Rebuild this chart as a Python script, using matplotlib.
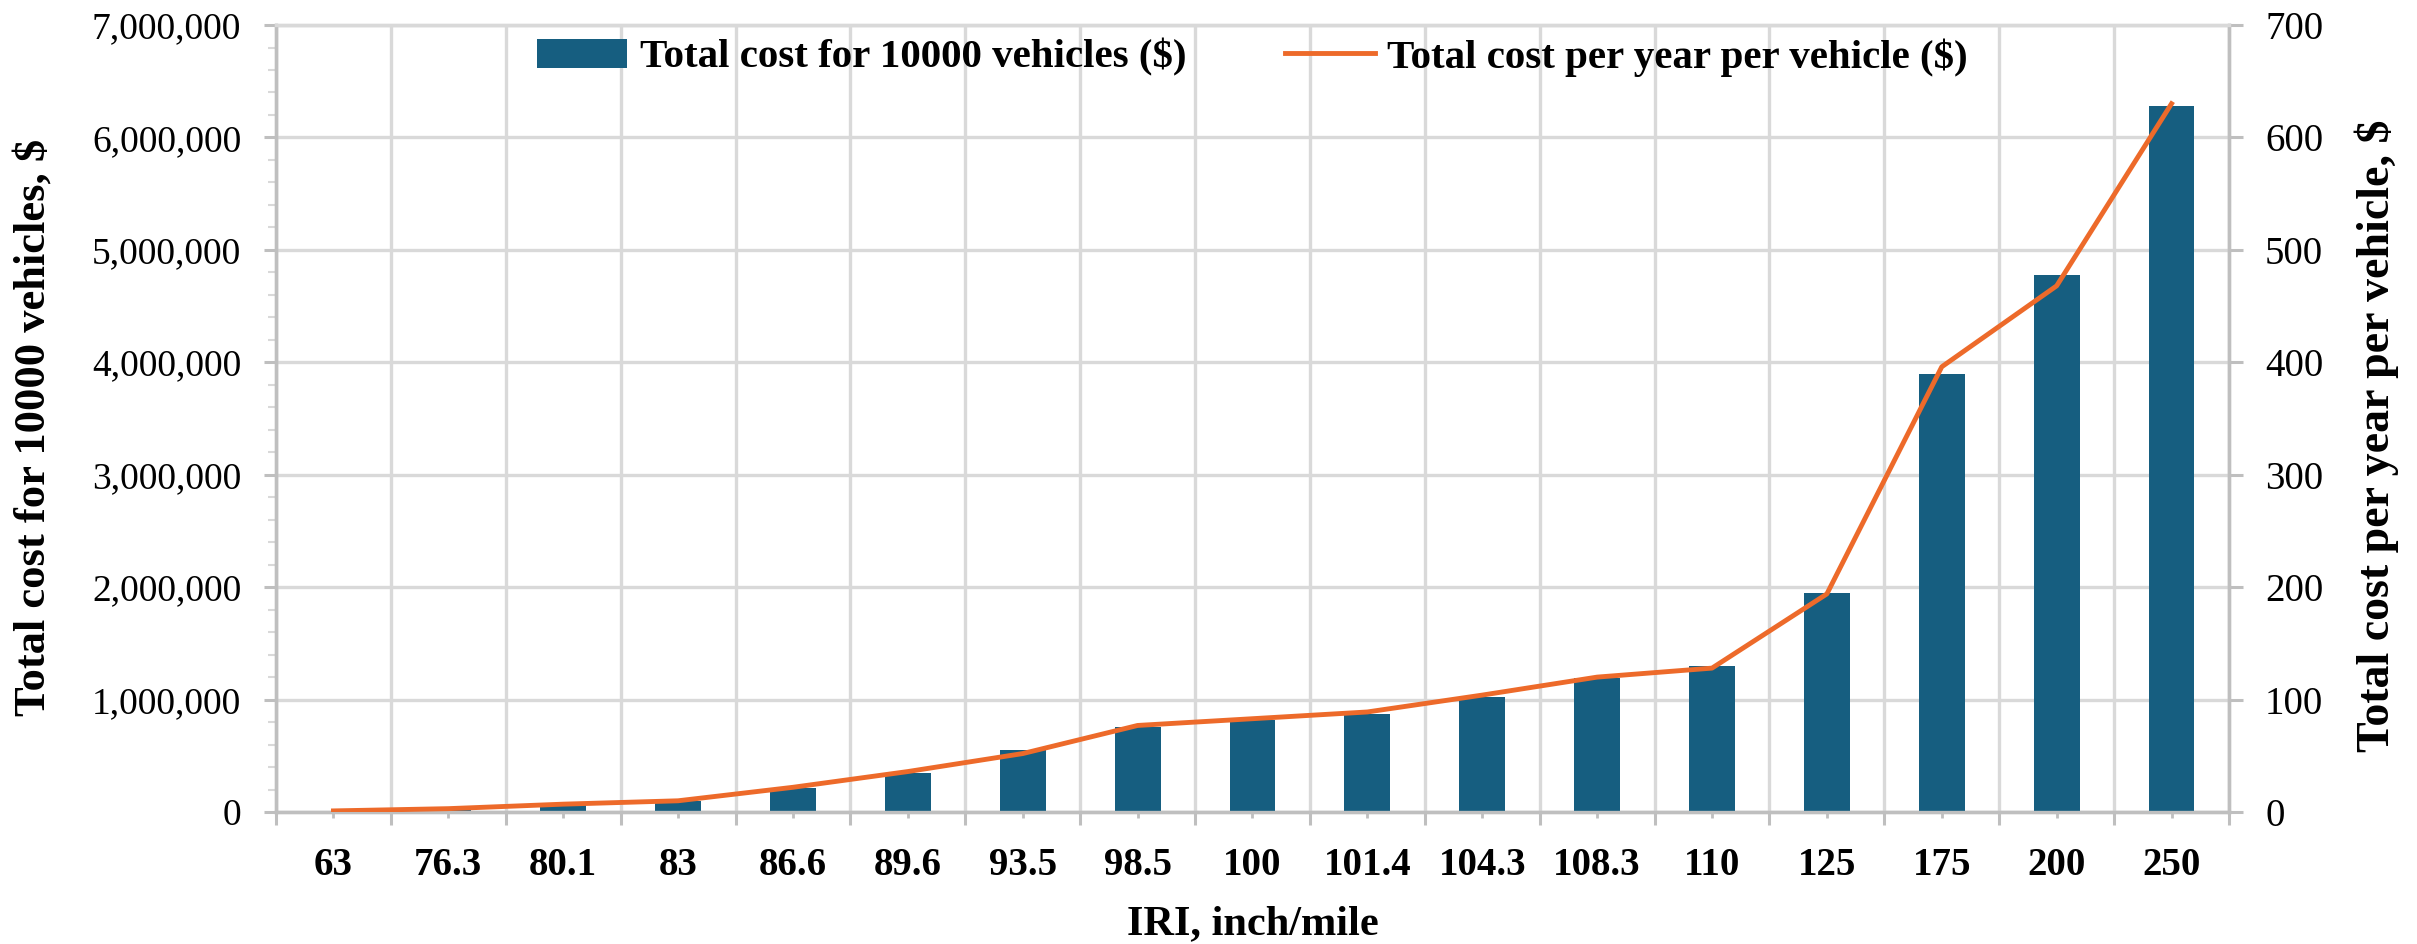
import matplotlib.pyplot as plt
from matplotlib.ticker import FuncFormatter, MultipleLocator, FixedLocator

# IRI categories and the two cost series
iri = ['63', '76.3', '80.1', '83', '86.6', '89.6', '93.5', '98.5', '100',
       '101.4', '104.3', '108.3', '110', '125', '175', '200', '250']
total_10000 = [5000, 20000, 70000, 100000, 210000, 350000, 550000, 755000,
               815000, 875000, 1025000, 1195000, 1300000, 1950000, 3900000,
               4780000, 6280000]
per_vehicle = [1, 3, 7, 10, 22, 36, 52, 77, 83, 89, 104, 120, 128, 194,
               396, 468, 630]

bar_color = '#165E80'
line_color = '#ED6A2A'
grid_color = '#D9D9D9'
axis_color = '#BFBFBF'

plt.rcParams['font.family'] = ['Liberation Serif', 'DejaVu Serif']

fig = plt.figure(figsize=(24.17, 9.44), dpi=100)
ax = fig.add_axes([0.1142, 0.1398, 0.808, 0.8337])
ax2 = ax.twinx()

x = list(range(len(iri)))
bars = ax.bar(x, total_10000, width=0.4, color=bar_color, zorder=3,
              label='Total cost for 10000 vehicles ($)')
line, = ax2.plot(x, per_vehicle, color=line_color, lw=3.5, zorder=4,
                 label='Total cost per year per vehicle ($)')

ax.set_xlim(-0.5, len(iri) - 0.5)
ax.set_ylim(0, 7000000)
ax2.set_ylim(0, 700)

# x axis: labels at centres, gridlines at category boundaries
ax.set_xticks(x)
ax.set_xticklabels(iri, fontsize=28, fontweight='bold')
ax.xaxis.set_minor_locator(FixedLocator([i - 0.5 for i in range(len(iri) + 1)]))
ax.tick_params(axis='x', which='major', length=4.5, width=2, color=axis_color, pad=21)
ax.tick_params(axis='x', which='minor', length=9, width=2.2, color=axis_color)
ax.grid(axis='x', which='minor', color=grid_color, lw=2.4, zorder=0)

# left axis
ax.yaxis.set_major_locator(MultipleLocator(1000000))
ax.yaxis.set_minor_locator(MultipleLocator(200000))
ax.yaxis.set_major_formatter(FuncFormatter(lambda v, p: '{:,.0f}'.format(v)))
ax.tick_params(axis='y', which='major', length=9, width=2.2, color=axis_color,
               labelsize=27, pad=16)
ax.tick_params(axis='y', which='minor', length=6, width=1.5, color=grid_color)
ax.grid(axis='y', which='major', color=grid_color, lw=2.4, zorder=0)
ax.set_axisbelow(True)

# right axis
ax2.yaxis.set_major_locator(MultipleLocator(100))
ax2.tick_params(axis='y', which='major', length=10, width=2.2, color=axis_color,
                labelsize=28, pad=16)

for a in (ax, ax2):
    for side in ('left', 'right', 'bottom'):
        a.spines[side].set_color(axis_color)
        a.spines[side].set_linewidth(2.4)
    a.spines['top'].set_color(grid_color)
    a.spines['top'].set_linewidth(2.4)

ax.set_xlabel('IRI, inch/mile', fontsize=30.5, fontweight='bold', va='center')
ax.xaxis.set_label_coords(0.5, -0.142)
ax.set_ylabel('Total cost for 10000 vehicles, $', fontsize=32,
              fontweight='bold', va='center', ha='center')
ax.yaxis.set_label_coords(-0.1244, 0.489)
ax2.set_ylabel('Total cost per year per vehicle, $', fontsize=33,
               fontweight='bold', va='center', ha='center', rotation=90)
ax2.yaxis.set_label_coords(1.0758, 0.478)

leg = ax2.legend([bars, line], [bars.get_label(), line.get_label()],
                 loc='center', bbox_to_anchor=(0.5, 0.959), ncol=2,
                 frameon=False, prop={'size': 29.5, 'weight': 'bold'},
                 handlelength=2.2, handleheight=0.7, handletextpad=0.3,
                 columnspacing=2.4)

fig.savefig('out.png', dpi=100)
